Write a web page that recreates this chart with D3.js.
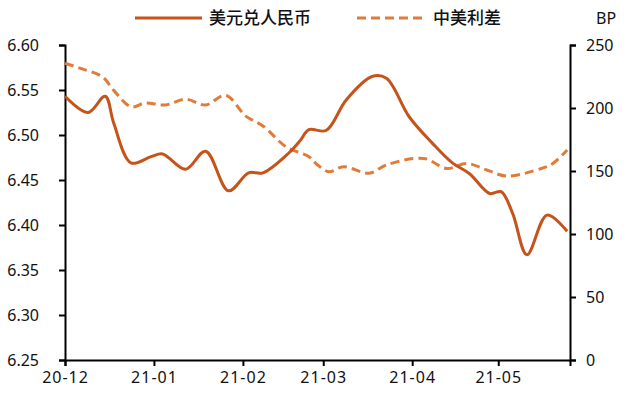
<!doctype html>
<html>
<head>
<meta charset="UTF-8">
<script src="https://d3js.org/d3.v7.min.js"></script>
<style>
  body { margin: 0; background: #fff; }
  text { font-family: "Noto Sans", "Noto Sans CJK SC", sans-serif; }
</style>
</head>
<body>
<script>
  // USD/CNY rate (left axis)
  var cnyDates = ['2020-12-01','2020-12-09','2020-12-15','2020-12-18','2020-12-24','2020-12-31','2021-01-04','2021-01-12','2021-01-19','2021-01-27','2021-02-03','2021-02-08','2021-02-17','2021-02-21','2021-02-24','2021-03-02','2021-03-09','2021-03-18','2021-03-23','2021-03-31','2021-04-08','2021-04-15','2021-04-21','2021-04-28','2021-05-02','2021-05-06','2021-05-11','2021-05-18','2021-05-25']
  var cnyValues = [6.543,6.525,6.543,6.513,6.469,6.476,6.479,6.462,6.482,6.438,6.458,6.458,6.480,6.494,6.506,6.505,6.539,6.565,6.563,6.520,6.491,6.469,6.457,6.435,6.437,6.413,6.367,6.411,6.393]

  // China-US rate spread in BP (right axis)
  var bpDates = ['2020-12-01','2020-12-07','2020-12-14','2020-12-18','2020-12-24','2020-12-29','2021-01-05','2021-01-12','2021-01-19','2021-01-26','2021-02-02','2021-02-08','2021-02-16','2021-02-24','2021-02-27','2021-03-03','2021-03-08','2021-03-17','2021-03-23','2021-04-05','2021-04-13','2021-04-20','2021-04-27','2021-05-04','2021-05-16','2021-05-20','2021-05-25']
  var bpValues = [235.5,231,224.8,214,201,204,202.4,207,202.4,210,193.6,185.7,169.3,161.4,154.8,149.4,153.4,148.2,154.8,160,152,156,150.8,146,152,156,166.7]

  var xTickDates = ['2020-12-01','2021-01-01','2021-02-01','2021-03-01','2021-04-01','2021-05-01']
  var leftTicks = [6.25,6.30,6.35,6.40,6.45,6.50,6.55,6.60]
  var rightTicks = [0,50,100,150,200,250]
  var seriesNames = ['美元兑人民币','中美利差']

  var width = 632, height = 394
  var margin = {left: 65, right: 62, top: 45, bottom: 34}
  var parse = d3.timeParse('%Y-%m-%d')

  var cny = cnyDates.map((d, i) => ({date: parse(d), v: cnyValues[i]}))
  var bp = bpDates.map((d, i) => ({date: parse(d), v: bpValues[i]}))

  var svg = d3.select('body').append('svg')
    .attr('width', width)
    .attr('height', height)

  var x = d3.scaleTime()
    .domain([parse('2020-12-01'), parse('2021-05-26')])
    .range([margin.left, width - margin.right])
  var yL = d3.scaleLinear().domain([6.25, 6.60]).range([height - margin.bottom, margin.top])
  var yR = d3.scaleLinear().domain([0, 250]).range([height - margin.bottom, margin.top])

  var solidColor = '#c5531a'
  var dashColor = '#e07b3a'

  // axes
  var axL = svg.append('g')
    .attr('transform', 'translate(' + margin.left + ',0)')
    .call(d3.axisLeft(yL).tickValues(leftTicks).tickFormat(d3.format('.2f')).tickSize(6).tickPadding(20))
  var axR = svg.append('g')
    .attr('transform', 'translate(' + (width - margin.right) + ',0)')
    .call(d3.axisRight(yR).tickValues(rightTicks).tickSize(6).tickPadding(10))
  var axB = svg.append('g')
    .attr('transform', 'translate(0,' + (height - margin.bottom) + ')')
    .call(d3.axisBottom(x).tickValues(xTickDates.map(parse)).tickFormat(d3.timeFormat('%y-%m')).tickSize(6).tickPadding(6))

  ;[axL, axR, axB].forEach(g => {
    g.select('.domain').attr('stroke', '#000').attr('stroke-width', 2)
    g.selectAll('.tick line').attr('stroke', '#000').attr('stroke-width', 2)
    g.selectAll('text').style('font-size', '16px').attr('fill', '#111')
  })
  axB.selectAll('text').style('letter-spacing', '1px')

  // lines
  var lineL = d3.line().x(d => x(d.date)).y(d => yL(d.v)).curve(d3.curveCatmullRom.alpha(0.5))
  var lineR = d3.line().x(d => x(d.date)).y(d => yR(d.v)).curve(d3.curveCatmullRom.alpha(0.5))

  svg.append('path')
    .datum(bp)
    .attr('fill', 'none')
    .attr('stroke', dashColor)
    .attr('stroke-width', 3)
    .attr('stroke-dasharray', '9,5')
    .attr('d', lineR)

  svg.append('path')
    .datum(cny)
    .attr('fill', 'none')
    .attr('stroke', solidColor)
    .attr('stroke-width', 3)
    .attr('d', lineL)

  // legend
  svg.append('line').attr('x1', 135).attr('x2', 202).attr('y1', 18).attr('y2', 18)
    .attr('stroke', solidColor).attr('stroke-width', 3)
  svg.append('text').attr('x', 209).attr('y', 24).text(seriesNames[0])
    .style('font-family', '"Noto Sans CJK SC", sans-serif').style('font-size', '17px').style('font-weight', 500).attr('fill', '#111')
  svg.append('line').attr('x1', 357).attr('x2', 425).attr('y1', 18).attr('y2', 18)
    .attr('stroke', dashColor).attr('stroke-width', 3).attr('stroke-dasharray', '9,5')
  svg.append('text').attr('x', 433).attr('y', 24).text(seriesNames[1])
    .style('font-family', '"Noto Sans CJK SC", sans-serif').style('font-size', '17px').style('font-weight', 500).attr('fill', '#111')

  svg.append('text').attr('x', 596).attr('y', 24).text('BP')
    .style('font-size', '16px').attr('fill', '#111')
</script>
</body>
</html>
